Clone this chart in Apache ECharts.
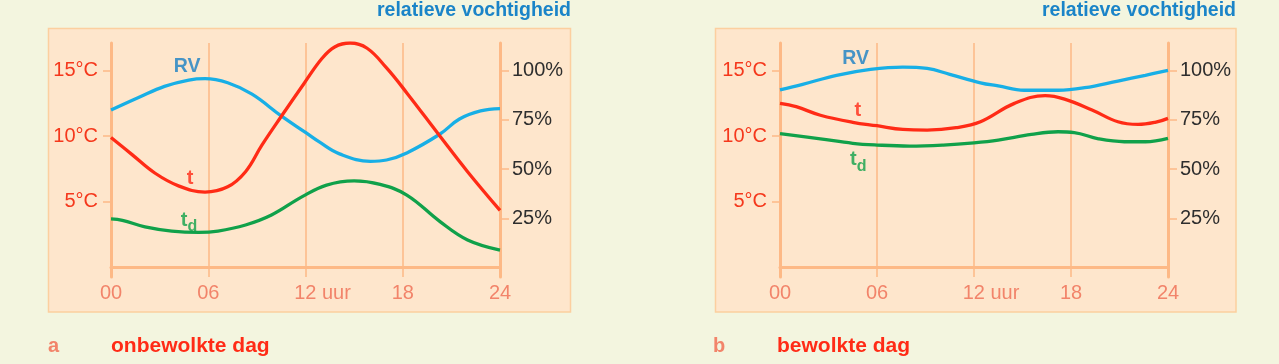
<!DOCTYPE html>
<html>
<head>
<meta charset="utf-8">
<script src="https://cdn.jsdelivr.net/npm/echarts@6/dist/echarts.min.js"></script>
<style>
html,body{margin:0;padding:0;background:#f3f5df;}
#c{width:1279px;height:364px;}
</style>
</head>
<body>
<div id="c"></div>
<script>
// ---- data (hour, value) ----
const xTickValues = [0, 6, 12, 18, 24];
const xTickLabels = ['00', '06', '12 uur', '18', '24'];
const tempTicks = [5, 10, 15];
const rvTicks = [25, 50, 75, 100];

// a: onbewolkte dag
const tempA = [[0,9.9],[1.3,8.6],[2.7,7.2],[4.2,6.2],[5.8,5.75],[7.2,6.15],[8.3,7.3],[9.3,9.3],[10.5,11.5],[11.9,14.0],[13.0,15.9],[13.8,16.8],[14.75,17.1],[15.8,16.7],[17.0,15.2],[18.25,13.3],[20.3,10.0],[22.0,7.3],[24,4.35]];
const rvA = [[0,80],[1.7,86.3],[3.3,92],[4.8,95.2],[5.8,95.9],[7.2,93.8],[8.7,88],[10.5,77],[12.0,68.6],[12.9,63.5],[14.1,57.7],[16.0,53.9],[17.0,54.6],[18.25,58.2],[20.3,67.8],[21.5,75.4],[22.8,79.5],[24,80.7]];
const dewA = [[0,3.7],[0.7,3.6],[2.1,3.1],[3.75,2.78],[5.4,2.68],[6.6,2.78],[8.3,3.24],[9.9,4.0],[11.8,5.4],[13.3,6.28],[15.0,6.6],[16.6,6.33],[18.25,5.52],[20.3,3.5],[22.0,2.1],[24,1.33]];
const labelsA = [['RV',4.7,15.27],['t',4.88,6.79],['td',4.81,3.62]];

// b: bewolkte dag
const tempB = [[0,12.5],[1.0,12.25],[2.5,11.6],[4.5,11.06],[6.0,10.8],[7.6,10.52],[9.1,10.47],[10.9,10.65],[12.4,11.1],[14.5,12.5],[16.4,13.09],[17.6,12.83],[19.3,12.0],[20.9,11.1],[22.15,10.9],[23.2,11.06],[24,11.36]];
const rvB = [[0,90.2],[1.4,93],[3.5,97.6],[5.6,100.6],[7.6,101.8],[9.1,101.1],[10.5,98.1],[12.4,93.8],[13.5,92.2],[15.1,90],[17.2,90],[18.85,91.3],[20.9,94.7],[22.6,97.6],[24,100.1]];
const dewB = [[0,10.2],[2.5,9.8],[4.5,9.46],[6.0,9.33],[8.0,9.25],[10.1,9.33],[12.0,9.5],[13.5,9.71],[15.55,10.14],[17.2,10.34],[18.2,10.28],[19.7,9.8],[21.3,9.58],[22.6,9.58],[24,9.84]];
const labelsB = [['RV',4.68,15.93],['t',4.81,11.96],['td',4.84,8.25]];

// ---- styles ----
const FONT = 'Liberation Sans, Arial, sans-serif';
const AX = '#fdb986';
const RED = '#ff2b16';
const BLUE_LINE = '#18afe6';
const BLUE_TXT = '#1880c4';
const GREEN = '#10a14a';
const SALMON = '#f2846a';
const T_MIN = -0.72, T_MAX = 17.1;
const R_MIN = T_MIN * 100 / 15, R_MAX = T_MAX * 100 / 15;

const chart = echarts.init(document.getElementById('c'), null, {renderer: 'canvas'});

function xAxisFor(gi, yIdx) {
  return {
    type: 'value', gridIndex: gi, min: 0, max: 24, interval: 6,
    axisLine: {show: true, onZero: true, onZeroAxisIndex: yIdx, lineStyle: {color: AX, width: 3}},
    axisTick: {show: false},
    splitLine: {show: true, lineStyle: {color: AX, width: 1.5}},
    axisLabel: {
      margin: 6, color: SALMON, fontSize: 20, fontFamily: FONT,
      formatter: function (v) {
        const lab = xTickLabels[xTickValues.indexOf(v)] || '';
        return lab.indexOf(' ') > 0 ? '{u|' + lab + '}' : lab;
      },
      rich: {u: {padding: [0, 0, 0, 34], color: SALMON, fontSize: 20, fontFamily: FONT}}
    }
  };
}
function tempAxis(gi) {
  return {
    type: 'value', gridIndex: gi, min: T_MIN, max: T_MAX, position: 'left',
    axisLine: {show: true, onZero: false, lineStyle: {color: AX, width: 3}},
    axisTick: {show: true, customValues: tempTicks, length: 8, lineStyle: {color: AX, width: 1.5}},
    axisLabel: {customValues: tempTicks, formatter: '{value}°C', color: '#f5381c', fontSize: 20, fontFamily: FONT, margin: 13},
    splitLine: {show: false}
  };
}
function rvAxis(gi) {
  return {
    type: 'value', gridIndex: gi, min: R_MIN, max: R_MAX, position: 'right',
    axisLine: {show: true, onZero: false, lineStyle: {color: AX, width: 3}},
    axisTick: {show: true, customValues: rvTicks, length: 9, lineStyle: {color: AX, width: 1.5}},
    axisLabel: {customValues: rvTicks, formatter: '{value}%', color: '#2e2e2e', fontSize: 20, fontFamily: FONT, margin: 12},
    splitLine: {show: false}
  };
}
function line(data, color, xi, yi) {
  return {type: 'line', data: data, xAxisIndex: xi, yAxisIndex: yi, smooth: 0.4, symbol: 'none',
    lineStyle: {color: color, width: 3.3}, z: 3, silent: true};
}
const labelStyle = {
  RV: {formatter: 'RV', color: BLUE_TXT, fontSize: 19.5, fontWeight: 'bold', fontFamily: FONT},
  t: {formatter: 't', color: RED, fontSize: 20, fontWeight: 'bold', fontFamily: FONT},
  td: {formatter: '{t|t}{d|d}', color: GREEN, fontWeight: 'bold', fontFamily: FONT,
       rich: {t: {fontSize: 20, lineHeight: 20, verticalAlign: 'top', color: GREEN, fontWeight: 'bold', fontFamily: FONT},
              d: {fontSize: 16, lineHeight: 16, verticalAlign: 'top', padding: [9, 0, 0, 0], color: GREEN, fontWeight: 'bold', fontFamily: FONT}}}
};
function labelSeries(list, xi, yi) {
  return {type: 'scatter', xAxisIndex: xi, yAxisIndex: yi, symbolSize: 0, silent: true, z: 5,
    data: list.map(function (l) {
      return {value: [l[1], l[2]], label: Object.assign({show: true, position: 'inside'}, labelStyle[l[0]])};
    })};
}

function txt(x, y, text, color, size, align) {
  return {type: 'text', x: x, y: y, z: 10,
    style: {text: text, fill: color, font: 'bold ' + size + 'px ' + FONT, textAlign: align || 'left', textVerticalAlign: 'middle'}};
}

const option = {
  backgroundColor: '#f3f5df',
  animation: false,
  grid: [
    {left: 111, right: 779, top: 43, bottom: 87},
    {left: 780, right: 111, top: 43, bottom: 87}
  ],
  xAxis: [xAxisFor(0, 0), xAxisFor(1, 2)],
  yAxis: [tempAxis(0), rvAxis(0), tempAxis(1), rvAxis(1)],
  series: [
    line(rvA, BLUE_LINE, 0, 1), line(tempA, RED, 0, 0), line(dewA, GREEN, 0, 0), labelSeries(labelsA, 0, 0),
    line(rvB, BLUE_LINE, 1, 3), line(tempB, RED, 1, 2), line(dewB, GREEN, 1, 2), labelSeries(labelsB, 1, 2)
  ],
  graphic: [
    {type: 'rect', z: -10, shape: {x: 48.5, y: 28.5, width: 522, height: 283.5}, style: {fill: '#fee6cc', stroke: '#fccf9f', lineWidth: 1.5}},
    {type: 'rect', z: -10, shape: {x: 715.5, y: 28.5, width: 520.5, height: 283.5}, style: {fill: '#fee6cc', stroke: '#fccf9f', lineWidth: 1.5}},
    txt(571, 11, 'relatieve vochtigheid', '#1a84c8', 19.5, 'right'),
    txt(1236, 11, 'relatieve vochtigheid', '#1a84c8', 19.5, 'right'),
    txt(48, 346, 'a', SALMON, 20),
    txt(111, 346, 'onbewolkte dag', '#ff2b16', 21),
    txt(713, 346, 'b', SALMON, 20),
    txt(777, 346, 'bewolkte dag', '#ff2b16', 21)
  ]
};
chart.setOption(option);
</script>
</body>
</html>
